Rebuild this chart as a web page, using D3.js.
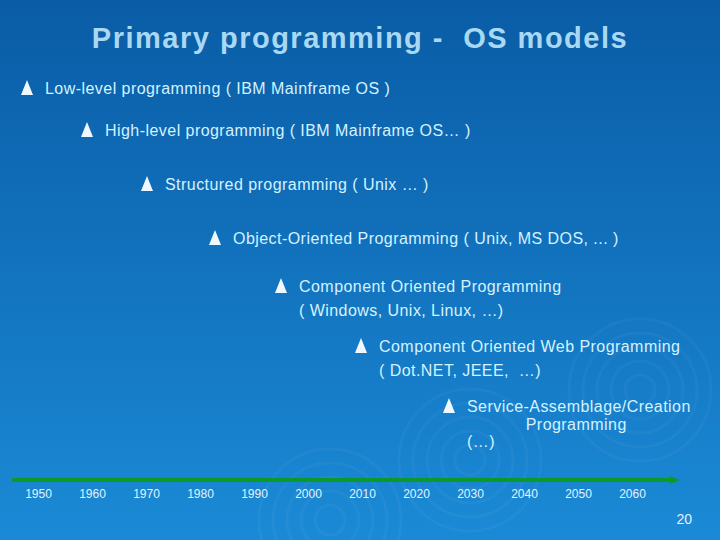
<!DOCTYPE html>
<html><head><meta charset="utf-8">
<script src="https://cdn.jsdelivr.net/npm/d3@7"></script>
<style>body{margin:0;background:#000}svg{display:block}</style>
</head><body><svg id="c" width="720" height="540"></svg>
<script>
const title = "Primary programming -  OS models";
const items = [
  ["Low-level programming ( IBM Mainframe OS )"],
  ["High-level programming ( IBM Mainframe OS… )"],
  ["Structured programming ( Unix … )"],
  ["Object-Oriented Programming ( Unix, MS DOS, ... )"],
  ["Component Oriented Programming", "( Windows, Unix, Linux, …)"],
  ["Component Oriented Web Programming", "( Dot.NET, JEEE,  …)"],
  ["Service-Assemblage/Creation", "            Programming", "(…)"]
];
const bulletX = [27, 87, 147, 215, 281, 361, 449];
const itemY = [89, 131, 185, 239, 287, 347, 407];
const years = [1950,1960,1970,1980,1990,2000,2010,2020,2030,2040,2050,2060];
const pageNum = "20";

const svg = d3.select("#c");
const defs = svg.append("defs");
const g = defs.append("linearGradient").attr("id","bg").attr("x1",0).attr("y1",0).attr("x2",0).attr("y2",1);
g.append("stop").attr("offset","0").attr("stop-color","#0a5ca6");
g.append("stop").attr("offset","1").attr("stop-color","#1b8ad6");
svg.append("rect").attr("width",720).attr("height",540).attr("fill","url(#bg)");
[[640,390],[330,520],[470,460]].forEach(([cx,cy])=>{
  for(let r=15;r<80;r+=14) svg.append("circle").attr("cx",cx).attr("cy",cy).attr("r",r)
    .attr("fill","none").attr("stroke","#ffffff").attr("stroke-opacity",0.035).attr("stroke-width",3);
});
svg.append("text").attr("x",360).attr("y",48).attr("text-anchor","middle")
  .attr("font-family","Liberation Sans, Arial").attr("font-size",29).attr("font-weight","bold")
  .attr("letter-spacing",1.5).style("white-space","pre")
  .attr("fill","#a9d9f2").text(title);

const font = "Liberation Sans, Arial";
items.forEach((lines,i)=>{
  const bx = bulletX[i], y = itemY[i];
  svg.append("path").attr("d",`M${bx},${y-9}L${bx+6},${y+6}L${bx-6},${y+6}Z`).attr("fill","#f0f8ff");
  lines.forEach((t,j)=>{
    svg.append("text").attr("x",bx+18).attr("y",y+5+j*(i===6?17.5:24))
      .attr("font-family",font).attr("font-size",16).attr("letter-spacing",0.45).attr("fill","#d4f2ff")
      .style("white-space","pre").text(t);
  });
});

const x = d3.scaleLinear().domain([1950,2060]).range([38,632]);
svg.append("line").attr("x1",12).attr("x2",672).attr("y1",480).attr("y2",480)
  .attr("stroke","#0a9a2a").attr("stroke-width",4);
svg.append("path").attr("d","M670,476L680,480L670,484Z").attr("fill","#0a9a2a");
const ax = svg.append("g").attr("transform","translate(0,480)")
  .call(d3.axisBottom(x).tickValues(years).tickFormat(d3.format("d")).tickSize(0).tickPadding(9));
ax.select(".domain").remove();
ax.selectAll("text").attr("font-family",font).attr("font-size",12).attr("fill","#e0f4ff");
svg.append("text").attr("x",692).attr("y",524).attr("text-anchor","end")
  .attr("font-family",font).attr("font-size",14).attr("fill","#e0f4ff").text(pageNum);
</script></body></html>
